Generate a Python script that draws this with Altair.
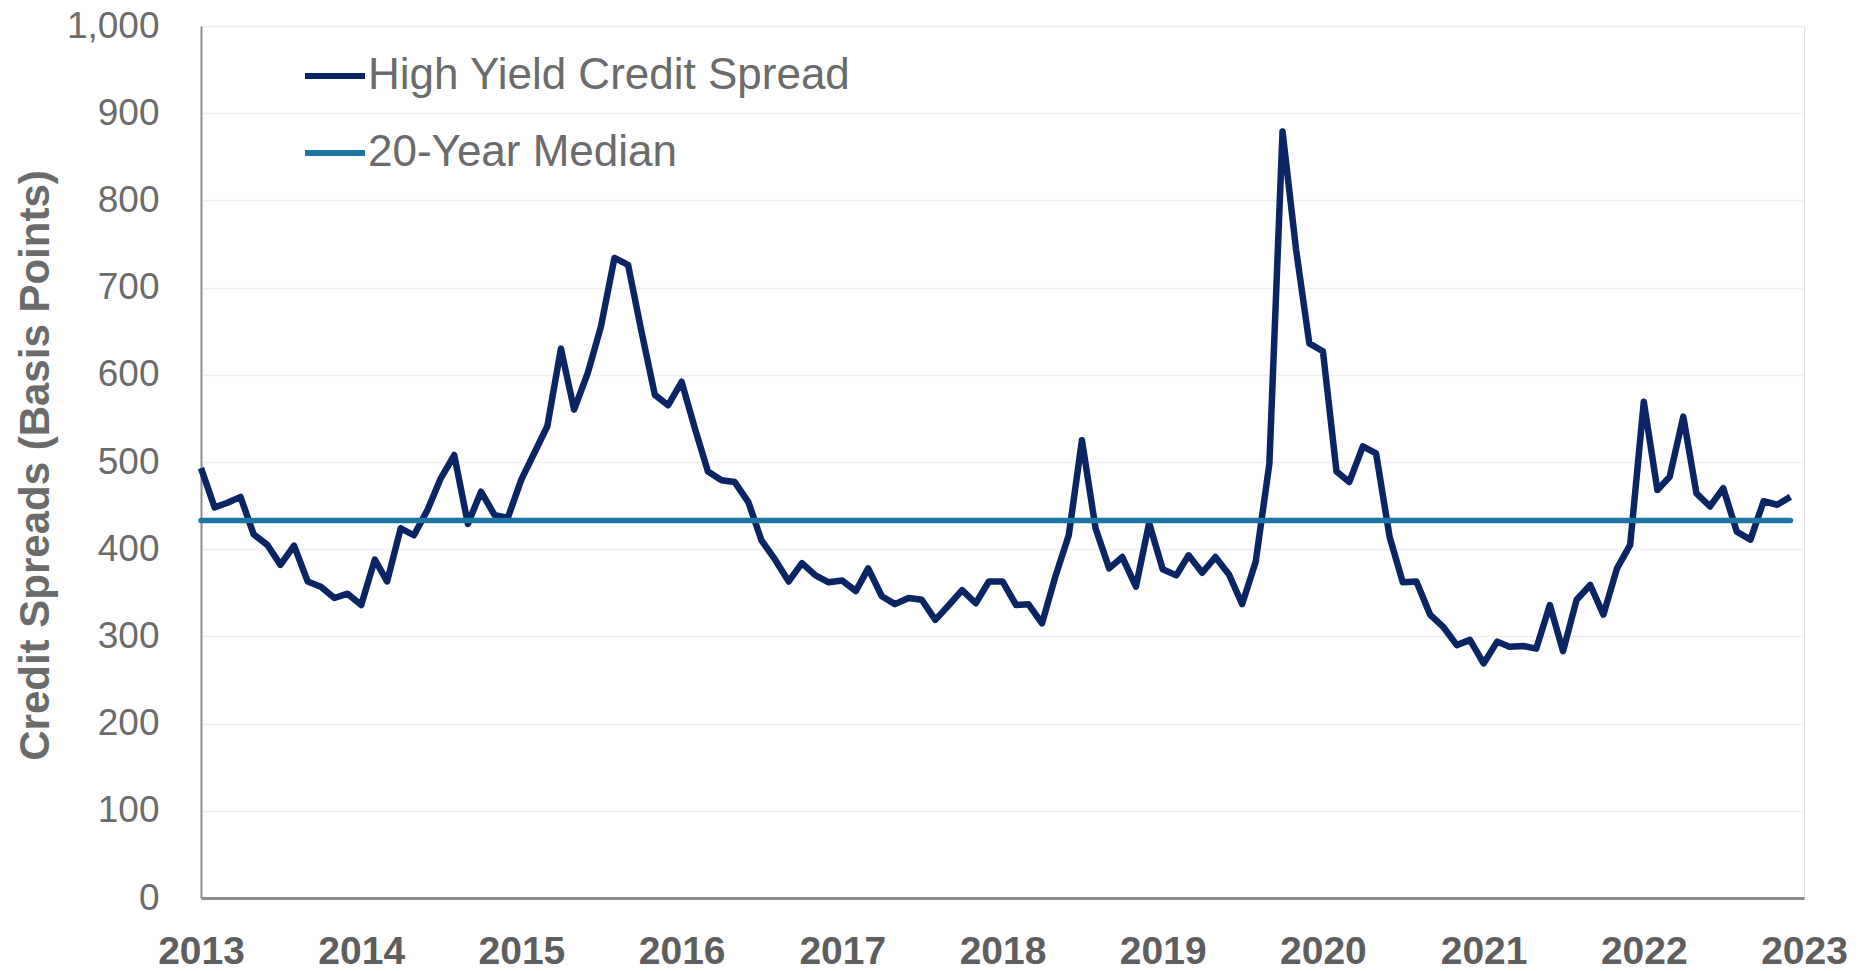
import altair as alt
import pandas as pd

# Monthly high-yield credit spreads (basis points), Jan 2013 - Dec 2022
spread_2013 = [493, 448, 453, 460, 417, 405, 382, 404, 363, 357, 344, 349]
spread_2014 = [336, 388, 363, 424, 416, 445, 481, 508, 429, 466, 439, 436]
spread_2015 = [480, 512, 541, 630, 560, 602, 655, 734, 726, 651, 577, 565]
spread_2016 = [592, 537, 489, 479, 477, 454, 410, 388, 363, 384, 370, 362]
spread_2017 = [364, 352, 378, 346, 337, 344, 342, 319, 336, 353, 338, 363]
spread_2018 = [363, 336, 337, 315, 368, 416, 525, 424, 378, 391, 357, 430]
spread_2019 = [377, 370, 393, 373, 391, 371, 337, 386, 498, 879, 743, 636]
spread_2020 = [627, 489, 477, 518, 510, 414, 362, 363, 325, 311, 290, 296]
spread_2021 = [269, 294, 288, 289, 286, 336, 283, 342, 359, 325, 378, 405]
spread_2022 = [569, 468, 483, 552, 464, 449, 470, 420, 411, 455, 451, 460]

median_20yr = 433

series_names = ["High Yield Credit Spread", "20-Year Median"]
series_colors = ["#0b2463", "#1b76a4"]
year_ticks = list(range(2013, 2024))
y_ticks = list(range(0, 1001, 100))

spreads = (spread_2013 + spread_2014 + spread_2015 + spread_2016 + spread_2017 +
           spread_2018 + spread_2019 + spread_2020 + spread_2021 + spread_2022)
months = pd.date_range("2013-01-01", periods=len(spreads), freq="MS")
month_str = [d.strftime("%Y-%m-%d") for d in months]

hy_df = pd.DataFrame({"date": month_str, "value": spreads, "series": series_names[0]})
med_df = pd.DataFrame({"date": [month_str[0], month_str[-1]],
                       "value": [median_20yr, median_20yr],
                       "series": series_names[1]})

x_enc = alt.X(
    "date:T",
    scale=alt.Scale(type="utc",
                    domain=[alt.DateTime(year=2013, month=1, date=1, utc=True),
                            alt.DateTime(year=2023, month=1, date=1, utc=True)]),
    axis=alt.Axis(
        title=None,
        values=[alt.DateTime(year=y, month=1, date=1, utc=True) for y in year_ticks],
        format="%Y", formatType="utc",
        labelFont="Liberation Sans", labelFontSize=39, labelFontWeight="bold",
        labelColor="#5e5e5e", labelPadding=34, labelOverlap=False,
        labelBound=False, labelFlush=False,
        ticks=False, grid=False,
        domainColor="#8c8c8c", domainWidth=3,
    ),
)

y_enc = alt.Y(
    "value:Q",
    scale=alt.Scale(domain=[0, 1000], nice=False, zero=True),
    axis=alt.Axis(
        title="Credit Spreads (Basis Points)",
        values=y_ticks, format=",.0f",
        labelFont="Liberation Sans", labelFontSize=37, labelColor="#6b6b6b",
        labelPadding=42, ticks=False,
        grid=True, gridColor="#efefef", gridWidth=1.5,
        domainColor="#8c8c8c", domainWidth=2,
        titleFont="Liberation Sans", titleFontSize=42, titleFontWeight="bold",
        titleColor="#6b6b6b", titleAngle=270, titleX=-166, titleY=439,
        titleAlign="center", titleBaseline="middle",
    ),
)

color_enc = alt.Color(
    "series:N",
    scale=alt.Scale(domain=series_names, range=series_colors),
    legend=alt.Legend(
        title=None, orient="none", legendX=101, legendY=17,
        symbolType="stroke", symbolSize=3600, symbolStrokeWidth=6,
        labelFont="Liberation Sans", labelFontSize=44, labelColor="#6b6b6b",
        labelOffset=0, rowPadding=22, padding=0, labelLimit=800,
    ),
)

hy = alt.Chart(hy_df).mark_line(strokeWidth=6.5, strokeJoin="round").encode(
    x=x_enc, y=y_enc, color=color_enc)
med = alt.Chart(med_df).mark_line(strokeWidth=5.5, strokeCap="round").encode(
    x=x_enc, y=y_enc, color=color_enc)

chart = (
    alt.layer(hy, med)
    .properties(width=1603, height=872,
                autosize=alt.AutoSizeParams(type="none"),
                padding={"left": 193, "top": 18, "right": 50, "bottom": 72})
    .configure_view(stroke=None)
    .configure(background="white")
)

chart.save("out.html", embed_options={"renderer": "svg", "actions": False})
